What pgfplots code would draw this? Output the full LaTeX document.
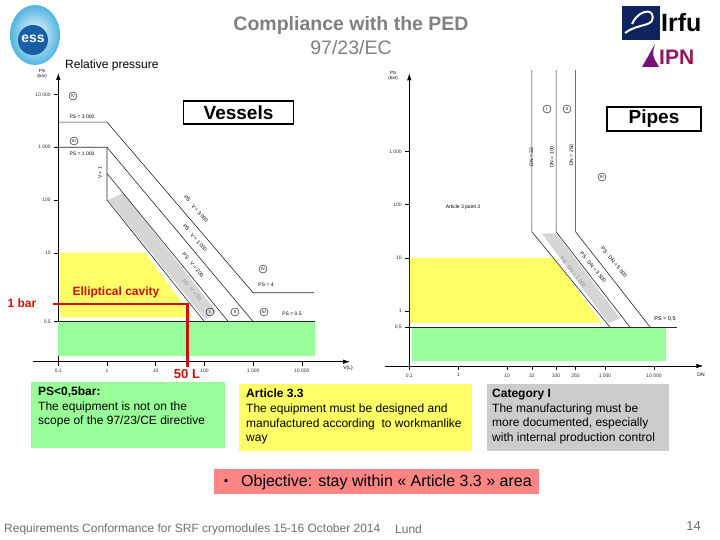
\documentclass[border=0pt]{standalone}
\usepackage{fontspec}
\setmainfont{Liberation Sans}
\usepackage{pgfplots}
\pgfplotsset{compat=1.18}
\usetikzlibrary{arrows.meta}
\definecolor{cgreen}{RGB}{153,255,153}
\definecolor{cyellow}{RGB}{255,255,102}
\definecolor{cgray}{RGB}{214,214,214}
\definecolor{bgray}{RGB}{204,204,204}
\definecolor{bred}{RGB}{255,133,133}
\definecolor{cred}{RGB}{204,16,16}
\definecolor{tgray}{RGB}{128,128,128}
\definecolor{fgray}{RGB}{110,110,110}
\definecolor{essout}{RGB}{80,180,225}
\definecolor{essin}{RGB}{25,95,165}
\definecolor{irfublue}{RGB}{15,35,95}
\definecolor{ipn}{RGB}{150,20,90}
\tikzset{
 lnn/.style={black!85, line width=0.6pt},
 rn/.style={draw, circle, inner sep=0pt, minimum size=8pt, font=\fontsize{4.3}{5}\selectfont, line width=0.4pt},
 sm/.style={font=\fontsize{5}{6}\selectfont, inner sep=0pt},
 dg/.style={font=\fontsize{5.2}{6}\selectfont, inner sep=0pt},
}
\begin{document}
\begin{tikzpicture}
\path[use as bounding box, fill=white] (0,0) rectangle (720pt,-540pt);

% ---------- Vessels chart ----------
\begin{axis}[
  scale only axis, xmode=log, ymode=log, enlargelimits=false,
  axis x line=bottom, axis y line=left,
  axis line style={line width=0.7pt, -{Latex[length=7pt,width=4.5pt]}},
  tick style={black, line width=0.5pt},
  major tick length=4pt, tick align=outside,
  xminorticks=false, yminorticks=false,
  tick label style={font=\fontsize{5}{6}\selectfont, text=black!80},
  clip=false,
  at={(58.3pt,-361.7pt)}, anchor=south west,
  width=291.7pt, height=288.7pt,
  xmin=0.1, xmax=97700, ymin=0.087, ymax=25500,
  xtick={0.1,1,10,100,1000,10000},
  xticklabels={0.1,1,10,100,1~000,10~000},
  ytick={0.5,10,100,1000,10000},
  yticklabels={0.5,10,100,1~000,10~000},
]
\addplot[fill=cyellow, draw=none, forget plot] coordinates {(0.108,10) (6,10) (59,0.6) (0.108,0.6)} -- cycle;
\addplot[fill=cgreen, draw=none, forget plot] coordinates {(0.1,0.5) (18600,0.5) (18600,0.11) (0.1,0.11)} -- cycle;
\addplot[fill=cgray, draw=none, forget plot] coordinates {(1.05,100) (2.14,136) (174,0.79) (107,0.54)} -- cycle;
\addplot[lnn, forget plot] coordinates {(0.1,3000) (1,3000) (1000,1.76) (18000,1.76)};
\addplot[lnn, forget plot] coordinates {(0.1,1000) (1,1000) (1000,0.5)};
\addplot[lnn, forget plot] coordinates {(1,1000) (1,100) (100,0.5)};
\addplot[lnn, forget plot] coordinates {(1,320) (310,0.5)};
\addplot[lnn, forget plot] coordinates {(0.1,0.5) (18600,0.5)};
\addplot[black, line width=0.7pt, forget plot] coordinates {(0.03,0.087) (0.1,0.087)};
\addplot[cred, line width=2.4pt, forget plot] coordinates {(0.079,1.08) (45,1.08) (45,0.069)};
\end{axis}

% ---------- Pipes chart ----------
\begin{axis}[
  scale only axis, xmode=log, ymode=log, enlargelimits=false,
  axis x line=bottom, axis y line=left,
  axis line style={line width=0.7pt, -{Latex[length=7pt,width=4.5pt]}},
  tick style={black, line width=0.5pt},
  major tick length=4pt, tick align=outside,
  xminorticks=false, yminorticks=false,
  tick label style={font=\fontsize{5}{6}\selectfont, text=black!80},
  clip=false,
  at={(409.3pt,-366pt)}, anchor=south west,
  width=294pt, height=292.7pt,
  xmin=0.1, xmax=102000, ymin=0.093, ymax=29500,
  xtick={0.1,1,10,32,100,250,1000,10000},
  xticklabels={0.1,1,10,32,100,250,1~000,10~000},
  ytick={0.5,1,10,100,1000},
  yticklabels={{0,5},1,10,100,1~000},
]
\addplot[fill=cyellow, draw=none, forget plot] coordinates {(0.103,10) (88,10) (860,0.6) (0.103,0.6)} -- cycle;
\addplot[fill=cgreen, draw=none, forget plot] coordinates {(0.112,0.5) (18000,0.5) (18000,0.117) (0.112,0.117)} -- cycle;
\addplot[fill=cgray, draw=none, forget plot] coordinates {(51,29) (100,29) (2040,0.73) (1170,0.59)} -- cycle;
\addplot[lnn, forget plot] coordinates {(32,34000) (32,31) (1260,0.5)};
\addplot[lnn, forget plot] coordinates {(100,34000) (100,31) (3240,0.5)};
\addplot[lnn, forget plot] coordinates {(250,34000) (250,31) (8370,0.5)};
\addplot[lnn, forget plot] coordinates {(0.1,0.5) (29000,0.5)};
\addplot[black, line width=0.7pt, forget plot] coordinates {(0.032,0.093) (0.1,0.093)};
\end{axis}

\begin{scope}[x=1pt,y=-1pt]
% logos
\shade[inner color=white, outer color=essout] (35,35) ellipse (25 and 30);
\fill[essin] (33,40) circle (15);
\node[text=white, font=\bfseries\fontsize{14}{14}\selectfont] at (33,39) {ess};
\fill[irfublue] (622,6) rectangle (660,40);
\draw[white, line width=2pt] (625,33) .. controls (640,22) and (656,28) .. (652,14) .. controls (648,8) and (636,14) .. (632,24);
\node[anchor=west, inner sep=0, font=\bfseries\fontsize{25}{25}\selectfont] at (661,23) {Irfu};
\fill[ipn!80!blue] (642,67) -- (655,44) .. controls (652,55) .. (659,67) -- cycle;
\node[anchor=west, inner sep=0, text=ipn, font=\bfseries\fontsize{21}{21}\selectfont] at (659,57) {IPN};
% title
\node[text=tgray, font=\bfseries\fontsize{19.5}{20}\selectfont] at (351,25) {Compliance with the PED};
\node[text=tgray, font=\fontsize{19.5}{20}\selectfont] at (351,48) {97/23/EC};
\node[anchor=west, inner sep=0, font=\fontsize{12}{13}\selectfont] at (65,65) {Relative pressure};
% axis names
\node[sm, align=center, font=\fontsize{4.5}{5}\selectfont] at (42,74) {PS\\(bar)};
\node[sm, align=center, font=\fontsize{4.5}{5}\selectfont] at (393,76) {PS\\(bar)};
\node[sm] at (348,368) {V(L)};
\node[sm] at (701,375) {DN};
% boxes
\node[draw, line width=1.5pt, minimum width=110pt, minimum height=23pt, inner sep=0, font=\bfseries\fontsize{19}{19}\selectfont] at (238.5,112.5) {Vessels};
\node[draw, line width=1.5pt, minimum width=94pt, minimum height=24pt, inner sep=0, font=\bfseries\fontsize{19}{19}\selectfont] at (654,119) {Pipes};
% vessels labels
\node[rn] at (73,96) {IV};
\node[rn] at (74,141) {III};
\node[rn] at (263,269) {IV};
\node[rn] at (210,312) {I};
\node[rn] at (235,312) {II};
\node[rn] at (264,312) {III};
\node[sm] at (82,117) {PS = 3 000};
\node[sm] at (82,154) {PS = 1 000};
\node[sm, rotate=90] at (100,173) {V = 1};
\node[sm] at (266,285) {PS = 4};
\node[sm] at (292,314) {PS = 0.5};
\node[dg, rotate=-49.4] at (196,209) {PS · V = 3 000};
\node[dg, rotate=-49.4] at (195,238) {PS · V = 1 000};
\node[dg, rotate=-49.4] at (193,265) {PS · V = 200};
\node[dg, rotate=-49.4, text=black!45] at (192,290) {PS · V = 50};
% pipes labels
\node[rn] at (547,109) {I};
\node[rn] at (567,109) {II};
\node[rn] at (602,177) {III};
\node[sm, rotate=90] at (531.5,157) {DN = 32};
\node[sm, rotate=90] at (552,157) {DN = 100};
\node[sm, rotate=90] at (571.5,155) {DN = 250};
\node[sm] at (463,207) {Article 3 point 3};
\node[sm, font=\fontsize{5.5}{6}\selectfont] at (665,319) {PS = 0,5};
\node[dg, rotate=-50.7, text=black!45] at (573,272) {PS · DN = 1 000};
\node[dg, rotate=-50.7] at (593,267) {PS · DN = 3 500};
\node[dg, rotate=-50.7] at (614,262) {PS · DN = 5 000};
% red annotations
\node[text=cred, font=\bfseries\fontsize{12}{12}\selectfont] at (22,303) {1 bar};
\node[text=cred, font=\bfseries\fontsize{12}{12}\selectfont] at (116,292) {Elliptical cavity};
\node[text=cred, font=\bfseries\fontsize{13}{13}\selectfont] at (187,374) {50 L};
% explanation boxes
\fill[cgreen] (31,382) rectangle (225,448);
\node[anchor=north west, align=left, inner sep=0, font=\fontsize{12}{14.7}\selectfont] at (38,386.5) {\textbf{PS<0,5bar:}\\The equipment is not on the\\scope of the 97/23/CE directive};
\fill[cyellow] (239,384) rectangle (472,451);
\node[anchor=north west, align=left, inner sep=0, font=\fontsize{12}{14.7}\selectfont] at (246,389) {\textbf{Article 3.3}\\The equipment must be designed and\\manufactured according\ \ to workmanlike\\way};
\fill[bgray] (487,384) rectangle (669,451);
\node[anchor=north west, align=left, inner sep=0, font=\fontsize{12}{14.7}\selectfont] at (492,389) {\textbf{Category I}\\The manufacturing must be\\more documented, especially\\with internal production control};
\fill[bred] (214,469) rectangle (539,494);
\node[font=\fontsize{11}{11}\selectfont] at (226,482) {▪};
\node[anchor=west, inner sep=0, font=\fontsize{16}{16}\selectfont] at (241,482) {Objective: stay within « Article 3.3 » area};
% footer
\node[anchor=west, inner sep=0, text=fgray, font=\fontsize{12}{12}\selectfont] at (4,529) {Requirements Conformance for SRF cryomodules 15-16 October 2014};
\node[anchor=west, inner sep=0, text=fgray, font=\fontsize{12}{12}\selectfont] at (395,529) {Lund};
\node[anchor=east, inner sep=0, text=fgray, font=\fontsize{13}{13}\selectfont] at (701,526) {14};
\end{scope}
\end{tikzpicture}
\end{document}
